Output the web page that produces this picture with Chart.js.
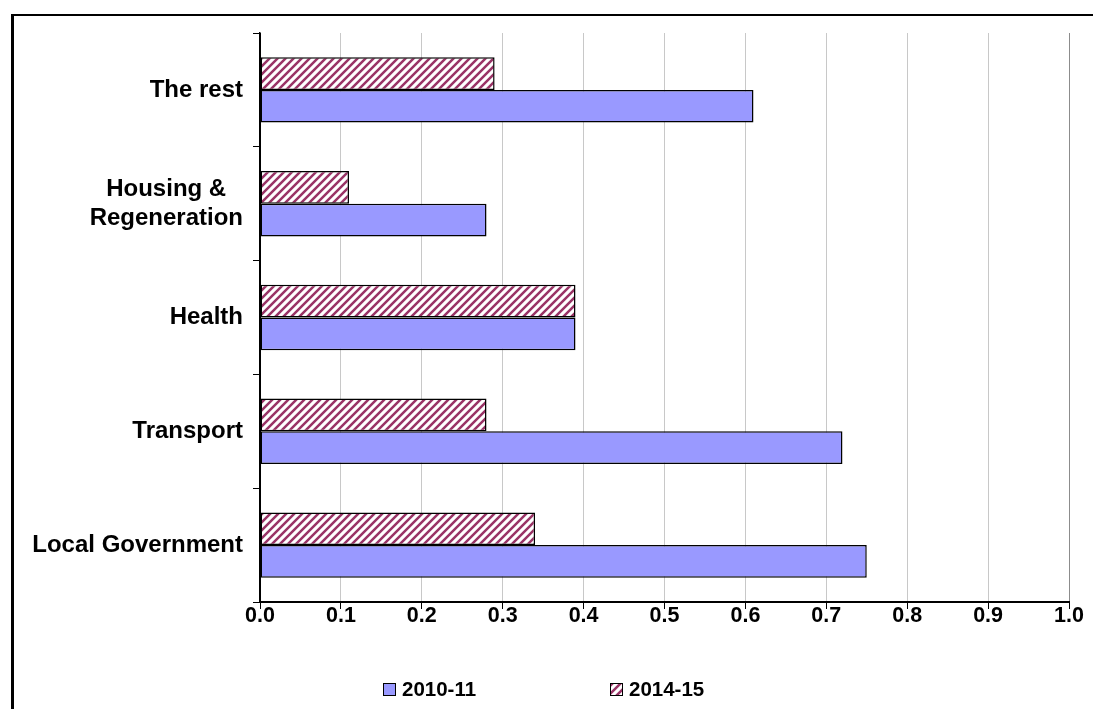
<!DOCTYPE html>
<html>
<head>
<meta charset="utf-8">
<script src="https://cdn.jsdelivr.net/npm/chart.js@4.4.0/dist/chart.umd.min.js"></script>
<style>
  html, body { margin: 0; padding: 0; background: #fff; overflow: hidden; }
  #frame { position: absolute; left: 11px; top: 14px; width: 1200px; height: 800px;
           border-left: 3px solid #000; border-top: 2px solid #000; }
  #wrap { position: absolute; left: 0; top: 0; width: 1093px; height: 709px; }
</style>
</head>
<body>
<div id="frame"></div>
<div id="wrap"><canvas id="chart" width="1093" height="709"></canvas></div>
<script>
// Spending categories, listed top to bottom
// (trailing en + thin space keeps the first line of the two-line label centred over the second)
const categories = ['The rest', ['Housing &\u2002\u2009', 'Regeneration'], 'Health', 'Transport', 'Local Government'];

// Values per series
const series2010 = [0.61, 0.28, 0.39, 0.72, 0.75];
const series2014 = [0.29, 0.11, 0.39, 0.28, 0.34];
const seriesNames = ['2010-11', '2014-15'];

// Value axis tick labels
const valueTicks = ['0.0', '0.1', '0.2', '0.3', '0.4', '0.5', '0.6', '0.7', '0.8', '0.9', '1.0'];

const FONT = '"Liberation Sans", Arial, sans-serif';
const BLUE = '#9999ff';
const MAROON = '#993366';

// Diagonal "/" stripe fill
function stripePattern(color) {
  const s = 8;
  const p = document.createElement('canvas');
  p.width = s; p.height = s;
  const g = p.getContext('2d');
  g.fillStyle = '#ffffff';
  g.fillRect(0, 0, s, s);
  g.strokeStyle = color;
  g.lineWidth = 2.5;
  g.beginPath();
  g.moveTo(-s, 2 * s); g.lineTo(2 * s, -s);
  g.moveTo(-s, s); g.lineTo(s, -s);
  g.moveTo(0, 2 * s); g.lineTo(2 * s, 0);
  g.stroke();
  return g.createPattern(p, 'repeat');
}
const stripes = stripePattern(MAROON);

// Legend drawn below the plot: 2010-11 first, then 2014-15
const bottomLegend = {
  id: 'bottomLegend',
  afterDraw(chart) {
    const ctx = chart.ctx;
    const items = [
      { label: seriesNames[0], fill: BLUE, x: 383 },
      { label: seriesNames[1], fill: stripes, x: 610 }
    ];
    const y = 683, box = 12;
    ctx.save();
    ctx.font = 'bold 20.5px ' + FONT;
    ctx.textBaseline = 'middle';
    items.forEach(it => {
      ctx.fillStyle = it.fill;
      ctx.fillRect(it.x, y, box, box);
      ctx.strokeStyle = '#000';
      ctx.lineWidth = 1;
      ctx.strokeRect(it.x + 0.5, y + 0.5, box, box);
      ctx.fillStyle = '#000';
      ctx.fillText(it.label, it.x + box + 7, y + box / 2 + 1);
    });
    ctx.restore();
  }
};

new Chart(document.getElementById('chart'), {
  type: 'bar',
  data: {
    labels: categories,
    datasets: [
      {
        label: seriesNames[1],
        data: series2014,
        backgroundColor: stripes,
        borderColor: '#000',
        borderWidth: 1.5,
        borderSkipped: false
      },
      {
        label: seriesNames[0],
        data: series2010,
        backgroundColor: BLUE,
        borderColor: '#000',
        borderWidth: 1.5,
        borderSkipped: false
      }
    ]
  },
  options: {
    indexAxis: 'y',
    responsive: false,
    animation: false,
    devicePixelRatio: 1,
    layout: { padding: { left: 14, top: 33, right: 24, bottom: 77 } },
    datasets: { bar: { categoryPercentage: 0.575, barPercentage: 1.0 } },
    plugins: {
      legend: { display: false },
      tooltip: { enabled: false },
      title: { display: false }
    },
    scales: {
      y: {
        type: 'category',
        offset: true,
        afterFit: s => { s.width = 246; },
        grid: { offset: true, drawOnChartArea: false, drawTicks: true, tickLength: 7, tickColor: '#000', tickWidth: 1 },
        border: { display: true, color: '#000', width: 1.5 },
        ticks: {
          color: '#000',
          padding: 10,
          font: { family: FONT, size: 24, weight: 'bold', lineHeight: 1.2 }
        }
      },
      x: {
        type: 'linear',
        min: 0,
        max: 1,
        afterFit: s => { s.height = 30; },
        afterBuildTicks: s => { s.ticks = valueTicks.map(t => ({ value: parseFloat(t) })); },
        grid: {
          color: c => (c.index === 0 ? '#000' : c.index === valueTicks.length - 1 ? '#8c8c8c' : '#c8c8c8'),
          tickColor: '#000',
          tickLength: 7,
          lineWidth: 1
        },
        border: { display: true, color: '#000', width: 2 },
        ticks: {
          color: '#000',
          padding: -6,
          maxRotation: 0,
          autoSkip: false,
          callback: (v, i) => valueTicks[i],
          font: { family: FONT, size: 21.5, weight: 'bold' }
        }
      }
    }
  },
  plugins: [bottomLegend]
});
</script>
</body>
</html>
